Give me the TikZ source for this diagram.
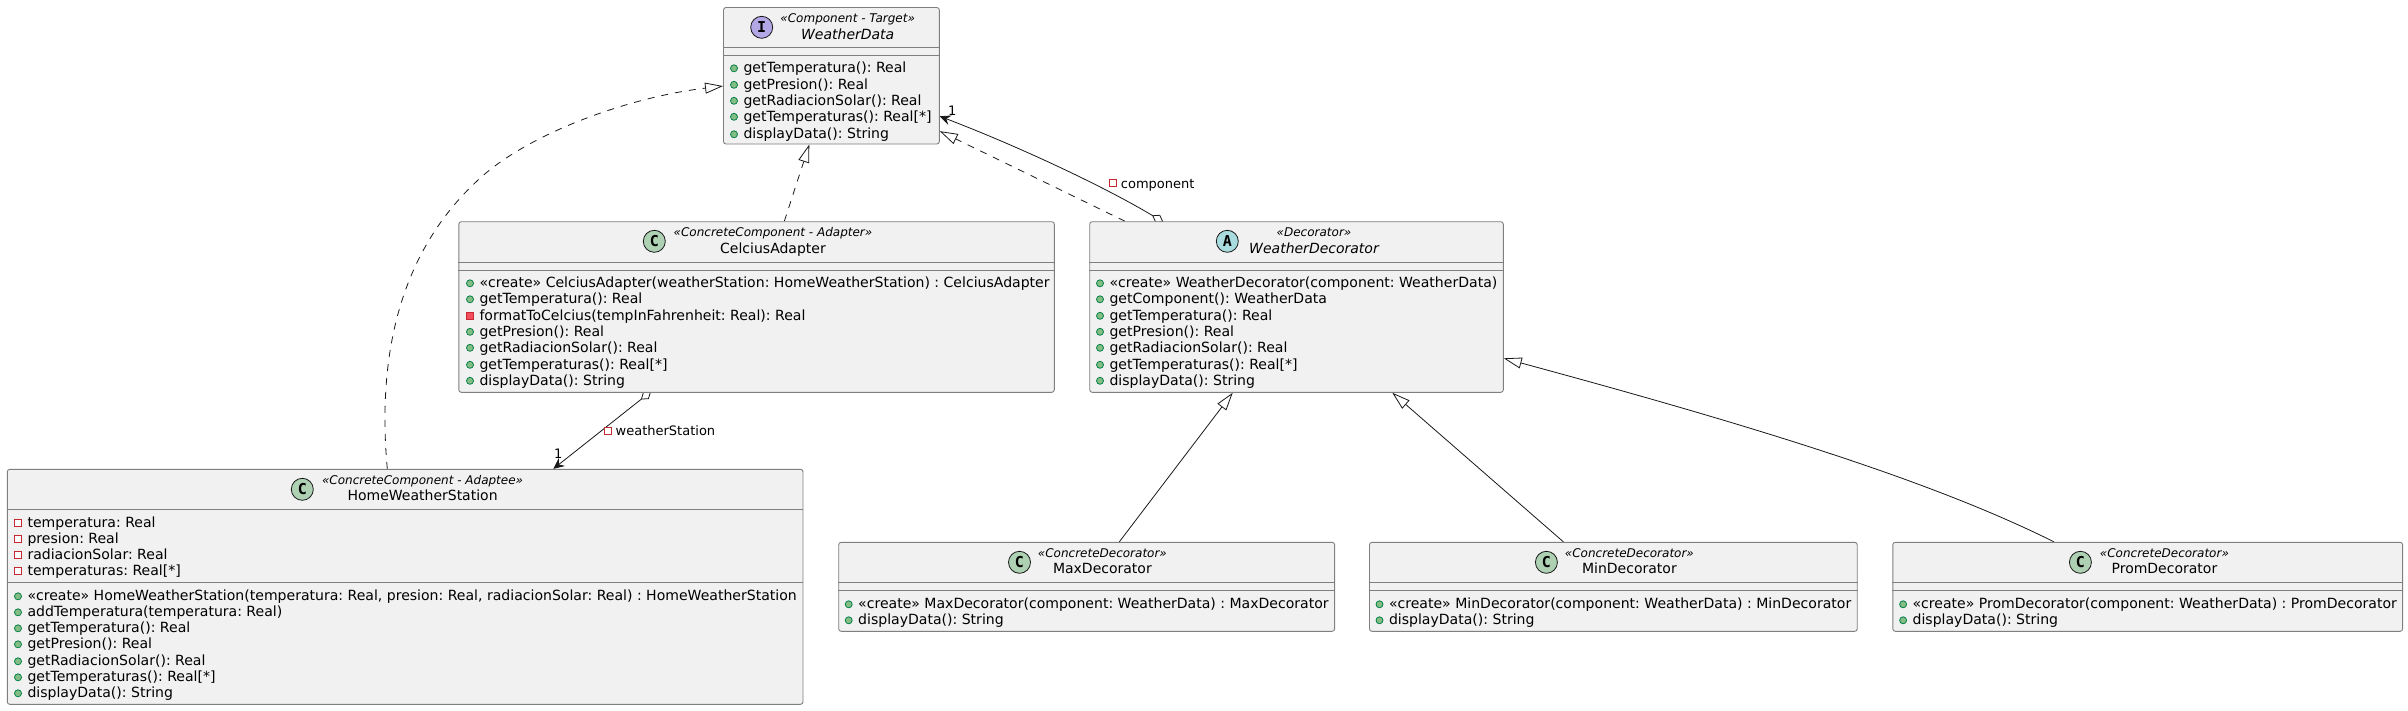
\documentclass[tikz,border=0pt]{standalone}
\usepackage{fontspec}
\setmainfont{DejaVu Sans}
\newfontfamily\iconfont{DejaVu Sans Mono}
\usetikzlibrary{arrows.meta,backgrounds}
\definecolor{boxfill}{HTML}{F1F1F1}
\definecolor{boxline}{HTML}{7F7F7F}
\definecolor{inkline}{HTML}{181818}
\definecolor{classicon}{HTML}{ADD1B2}
\definecolor{faceicon}{HTML}{B4A7E5}
\definecolor{abstracticon}{HTML}{A9DCDF}
\definecolor{pubfill}{HTML}{84BE84}
\definecolor{publine}{HTML}{038048}
\definecolor{privfill}{HTML}{F24D5C}
\definecolor{privline}{HTML}{C82930}
\tikzset{
  classbox/.style={draw=boxline,fill=boxfill,line width=0.9pt,rounded corners=2.5pt,inner sep=0pt},
  divider/.style={draw=boxline,line width=0.9pt},
  entry/.style={anchor=base west,inner sep=0pt,font=\fontsize{14.05}{16}\selectfont},
  headname/.style={anchor=base,inner sep=0pt,font=\fontsize{14}{16}\selectfont},
  headstereo/.style={anchor=base,inner sep=0pt,font=\fontsize{12}{14}\selectfont\itshape},
  badge/.style={circle,draw=inkline,line width=0.8pt,minimum size=22pt,inner sep=0pt,font=\fontsize{15}{15}\selectfont\iconfont\bfseries},
  pubmark/.style={circle,draw=publine,fill=pubfill,line width=0.8pt,minimum size=7pt,inner sep=0pt},
  privmark/.style={rectangle,draw=privline,fill=privfill,line width=0.8pt,minimum size=7pt,inner sep=0pt},
  fieldmark/.style={rectangle,draw=privline,fill=white,line width=0.8pt,minimum size=7pt,inner sep=0pt},
  tag/.style={anchor=base west,inner sep=0pt,font=\fontsize{13}{15}\selectfont},
  extends/.style={draw=inkline,line width=0.8pt,-{Triangle[open,length=18pt,width=11pt]}},
  realizes/.style={extends,dash pattern=on 7pt off 7pt},
  aggregates/.style={draw=inkline,line width=0.8pt,{Diamond[open,length=13pt,width=9pt]}-{Stealth[length=11pt,width=10pt,inset=4pt]}}
}
\newcommand{\pubrow}[4]{\node[pubmark] (#1m) at (#2-9.3,#3-4.2) {}; \node[entry] (#1) at (#2,#3) {#4};}
\newcommand{\fieldrow}[4]{\node[fieldmark] (#1m) at (#2-9.3,#3-4.2) {}; \node[entry] (#1) at (#2,#3) {#4};}
\newcommand{\privrow}[4]{\node[privmark] (#1m) at (#2-9.3,#3-4.2) {}; \node[entry] (#1) at (#2,#3) {#4};}
\begin{document}
\frenchspacing
\begin{tikzpicture}[x=1pt,y=-1pt]
  \useasboundingbox (0,0) rectangle (2408,710);
  \node[classbox,minimum width=215.8pt,minimum height=136.5pt] (weatherData) at (831.4,75.75) {};
  \node[classbox,minimum width=595.5pt,minimum height=170.6pt] (celciusAdapter) at (756.55,307) {};
  \node[classbox,minimum width=413.6pt,minimum height=170.6pt] (weatherDecorator) at (1296.5,307) {};
  \node[classbox,minimum width=795.7pt,minimum height=235pt] (homeStation) at (405.15,586.8) {};
  \node[classbox,minimum width=495.9pt,minimum height=89pt] (maxDecorator) at (1086.65,586.8) {};
  \node[classbox,minimum width=487.7pt,minimum height=89pt] (minDecorator) at (1613.35,586.8) {};
  \node[classbox,minimum width=509.8pt,minimum height=89pt] (promDecorator) at (2147.7,586.8) {};
  \draw[divider] (weatherData.west |- 0,47.3) -- (weatherData.east |- 0,47.3);
  \draw[divider] (weatherData.west |- 0,55.3) -- (weatherData.east |- 0,55.3);
  \draw[divider] (celciusAdapter.west |- 0,262.3) -- (celciusAdapter.east |- 0,262.3);
  \draw[divider] (celciusAdapter.west |- 0,270.3) -- (celciusAdapter.east |- 0,270.3);
  \draw[divider] (weatherDecorator.west |- 0,262.3) -- (weatherDecorator.east |- 0,262.3);
  \draw[divider] (weatherDecorator.west |- 0,270.3) -- (weatherDecorator.east |- 0,270.3);
  \draw[divider] (homeStation.west |- 0,509.3) -- (homeStation.east |- 0,509.3);
  \draw[divider] (homeStation.west |- 0,582.3) -- (homeStation.east |- 0,582.3);
  \draw[divider] (maxDecorator.west |- 0,582.3) -- (maxDecorator.east |- 0,582.3);
  \draw[divider] (maxDecorator.west |- 0,590.3) -- (maxDecorator.east |- 0,590.3);
  \draw[divider] (minDecorator.west |- 0,582.3) -- (minDecorator.east |- 0,582.3);
  \draw[divider] (minDecorator.west |- 0,590.3) -- (minDecorator.east |- 0,590.3);
  \draw[divider] (promDecorator.west |- 0,582.3) -- (promDecorator.east |- 0,582.3);
  \draw[divider] (promDecorator.west |- 0,590.3) -- (promDecorator.east |- 0,590.3);

  \node[badge,fill=faceicon] (dataIcon) at (761.7,27.3) {I};
  \node[headstereo] (dataStereo) at (847.7,22.7) {«Component - Target»};
  \node[headname,font=\fontsize{14}{16}\selectfont\itshape] (dataName) at (847.7,39) {WeatherData};
  \node[badge,fill=classicon] (adapterIcon) at (654.3,241.3) {C};
  \node[headstereo] (adapterStereo) at (773,236.9) {«ConcreteComponent - Adapter»};
  \node[headname] (adapterName) at (773,253.2) {CelciusAdapter};
  \node[badge,fill=abstracticon] (decoIcon) at (1227.3,241.3) {A};
  \node[headstereo] (decoStereo) at (1314,236.9) {«Decorator»};
  \node[headname,font=\fontsize{14}{16}\selectfont\itshape] (decoName) at (1314,253.2) {WeatherDecorator};
  \node[badge,fill=classicon] (homeIcon) at (302.3,489.3) {C};
  \node[headstereo] (homeStereo) at (422.6,484.5) {«ConcreteComponent - Adaptee»};
  \node[headname] (homeName) at (422.6,500.8) {HomeWeatherStation};
  \node[badge,fill=classicon] (maxIcon) at (1019.5,562.3) {C};
  \node[headstereo] (maxStereo) at (1102.4,557.5) {«ConcreteDecorator»};
  \node[headname] (maxName) at (1102.4,573.8) {MaxDecorator};
  \node[badge,fill=classicon] (minIcon) at (1546.4,562.3) {C};
  \node[headstereo] (minStereo) at (1629.4,557.5) {«ConcreteDecorator»};
  \node[headname] (minName) at (1629.4,573.8) {MinDecorator};
  \node[badge,fill=classicon] (promIcon) at (2080.4,562.3) {C};
  \node[headstereo] (promStereo) at (2164.4,557.5) {«ConcreteDecorator»};
  \node[headname] (promName) at (2164.4,573.8) {PromDecorator};

  \pubrow{dataA}{743.3}{72.5}{getTemperatura(): Real}
  \pubrow{dataB}{743.3}{89}{getPresion(): Real}
  \pubrow{dataC}{743.3}{105}{getRadiacionSolar(): Real}
  \pubrow{dataD}{743.3}{121}{getTemperaturas(): Real[*]}
  \pubrow{dataE}{743.3}{138.5}{displayData(): String}

  \pubrow{adapterA}{479.3}{287.5}{«create» CelciusAdapter(weatherStation: HomeWeatherStation) : CelciusAdapter}
  \pubrow{adapterB}{479.3}{303.5}{getTemperatura(): Real}
  \privrow{adapterC}{479.3}{320}{formatToCelcius(tempInFahrenheit: Real): Real}
  \pubrow{adapterD}{479.3}{336}{getPresion(): Real}
  \pubrow{adapterE}{479.3}{352}{getRadiacionSolar(): Real}
  \pubrow{adapterF}{479.3}{369}{getTemperaturas(): Real[*]}
  \pubrow{adapterG}{479.3}{385}{displayData(): String}

  \pubrow{decoA}{1109.3}{287.5}{«create» WeatherDecorator(component: WeatherData)}
  \pubrow{decoB}{1109.3}{303.5}{getComponent(): WeatherData}
  \pubrow{decoC}{1109.3}{320}{getTemperatura(): Real}
  \pubrow{decoD}{1109.3}{336}{getPresion(): Real}
  \pubrow{decoE}{1109.3}{352}{getRadiacionSolar(): Real}
  \pubrow{decoF}{1109.3}{369}{getTemperaturas(): Real[*]}
  \pubrow{decoG}{1109.3}{385}{displayData(): String}

  \fieldrow{homeA}{27.3}{527.5}{temperatura: Real}
  \fieldrow{homeB}{27.3}{543.5}{presion: Real}
  \fieldrow{homeC}{27.3}{559.5}{radiacionSolar: Real}
  \fieldrow{homeD}{27.3}{575.5}{temperaturas: Real[*]}
  \pubrow{homeE}{27.3}{600.5}{«create» HomeWeatherStation(temperatura: Real, presion: Real, radiacionSolar: Real) : HomeWeatherStation}
  \pubrow{homeF}{27.3}{616.5}{addTemperatura(temperatura: Real)}
  \pubrow{homeG}{27.3}{632.5}{getTemperatura(): Real}
  \pubrow{homeH}{27.3}{648.5}{getPresion(): Real}
  \pubrow{homeI}{27.3}{665.5}{getRadiacionSolar(): Real}
  \pubrow{homeJ}{27.3}{681.5}{getTemperaturas(): Real[*]}
  \pubrow{homeK}{27.3}{697.5}{displayData(): String}

  \pubrow{maxA}{858}{608.5}{«create» MaxDecorator(component: WeatherData) : MaxDecorator}
  \pubrow{maxB}{858}{624.5}{displayData(): String}
  \pubrow{minA}{1388.8}{608.5}{«create» MinDecorator(component: WeatherData) : MinDecorator}
  \pubrow{minB}{1388.8}{624.5}{displayData(): String}
  \pubrow{promA}{1912.4}{608.5}{«create» PromDecorator(component: WeatherData) : PromDecorator}
  \pubrow{promB}{1912.4}{624.5}{displayData(): String}

  \begin{scope}[on background layer]
    \draw[realizes] ([xshift=-17.85pt]homeStation.north) .. controls (376,345) and (405,245) .. (481.7,176.7)
      .. controls (531.7,132.2) and (630,97) .. ([yshift=-10.3pt]weatherData.west);
    \draw[realizes] ([xshift=27.75pt]celciusAdapter.north) -- ([xshift=-22.1pt]weatherData.south);
    \draw[realizes] ([xshift=-171.5pt]weatherDecorator.north) -- ([yshift=13.3pt]weatherData.south east);
    \draw[aggregates] ([xshift=-133.2pt,yshift=-0.8pt]weatherDecorator.north) .. controls (1105,187) and (1020,147) .. ([yshift=-40.5pt]weatherData.east);
    \draw[aggregates] ([xshift=-105.5pt,yshift=1.3pt]celciusAdapter.south) -- ([xshift=148.15pt]homeStation.north);
    \draw[extends] ([xshift=32.65pt]maxDecorator.north) -- ([xshift=-63.8pt]weatherDecorator.south);
    \draw[extends] ([xshift=-49.95pt]minDecorator.north) -- ([xshift=95.8pt]weatherDecorator.south);
    \draw[extends] ([xshift=-93.7pt]promDecorator.north) .. controls (1930,480) and (1750,425) .. ([yshift=-51.3pt]weatherDecorator.east);
  \end{scope}

  \node[tag] (dataOne) at (948,115) {1};
  \node[fieldmark] (componentMark) at (1113.3,183.3) {};
  \node[tag] (componentTag) at (1120.7,188.3) {component};
  \node[tag] (stationOne) at (553.8,458.3) {1};
  \node[fieldmark] (stationMark) at (608.2,431) {};
  \node[tag] (stationTag) at (615.5,435.7) {weatherStation};
\end{tikzpicture}
\end{document}
